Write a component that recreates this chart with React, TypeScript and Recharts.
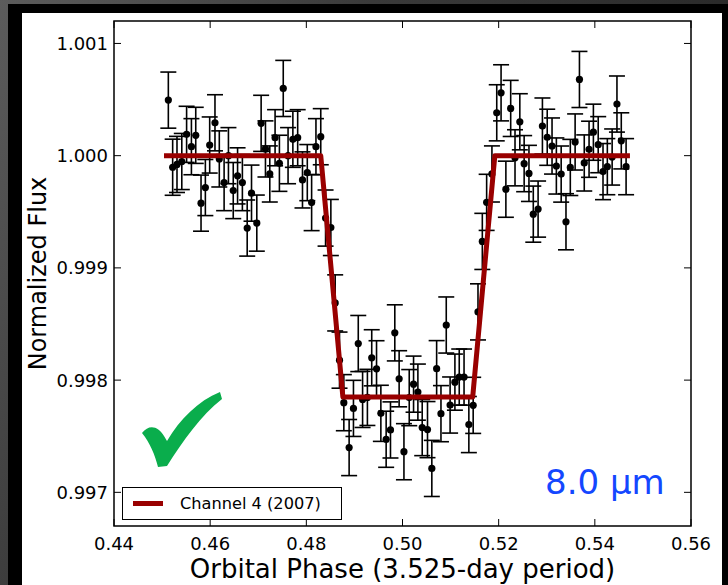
import React from "react";
import { ScatterChart, Scatter, XAxis, YAxis, ErrorBar, ReferenceArea } from "recharts";

// Binned photometry
const phase = [
  0.4513, 0.4522, 0.4531, 0.4541, 0.4551, 0.4561, 0.457, 0.4581, 0.459, 0.4599,
  0.461, 0.4619, 0.4629, 0.4638, 0.4648, 0.4657, 0.4667, 0.4677, 0.4686, 0.4697,
  0.4706, 0.4715, 0.4724, 0.4735, 0.4744, 0.4752, 0.4762, 0.4772, 0.4782, 0.4792,
  0.4802, 0.4811, 0.482, 0.483, 0.484, 0.4851, 0.486, 0.4869, 0.4878, 0.4889,
  0.4898, 0.4908, 0.4917, 0.4927, 0.4936, 0.4946, 0.4955, 0.4966, 0.4975, 0.4984,
  0.4993, 0.5003, 0.5014, 0.5023, 0.5032, 0.5041, 0.5052, 0.5061, 0.5071, 0.508,
  0.5091, 0.5099, 0.5109, 0.5118, 0.5128, 0.5138, 0.5147, 0.5157, 0.5166, 0.5175,
  0.5186, 0.5196, 0.5205, 0.5215, 0.5225, 0.5234, 0.5244, 0.5253, 0.5263, 0.5272,
  0.5282, 0.5291, 0.5301, 0.5311, 0.532, 0.533, 0.534, 0.5349, 0.5359, 0.5368,
  0.5378, 0.5388, 0.5397, 0.5407, 0.5417, 0.5426, 0.5436, 0.5446, 0.5455, 0.5465,
];

const flux = [
  1.000495, 0.999897, 0.999922, 0.999948, 1.00019, 1.00008, 1.000181, 0.999577, 0.999716, 1.000095,
  1.000293, 0.999971, 0.99976, 1.0, 0.999689, 0.99982, 0.99976, 0.999355, 0.999666, 0.999399,
  1.000288, 1.00006, 0.999837, 1.00016, 0.999932, 1.000599, 1.0, 1.000146, 1.00016, 0.999784,
  0.999849, 0.999582, 1.00008, 1.000169, 0.999444, 0.99936, 0.998688, 0.998178, 0.997799, 0.997399,
  0.997748, 0.998326, 0.997828, 0.997846, 0.998199, 0.998101, 0.997704, 0.997473, 0.997556, 0.998421,
  0.998012, 0.997362, 0.997844, 0.997964, 0.997893, 0.997577, 0.997559, 0.997213, 0.998102, 0.997701,
  0.998491, 0.997778, 0.997982, 0.998027, 0.998027, 0.997604, 0.997775, 0.998608, 0.999236, 0.999584,
  0.999837, 1.000382, 1.00056, 0.999701, 1.000421, 0.999981, 1.000302, 0.999929, 0.999842, 0.999479,
  0.999524, 1.000264, 1.000164, 1.000086, 0.999908, 0.999836, 0.999411, 0.999895, 1.000122, 1.000679,
  0.999935, 1.000057, 1.000209, 1.000098, 0.999858, 0.999902, 0.999988, 1.00046, 1.000132, 0.999902,
];

const FLUX_ERR = 0.00025;

// Transit model (Channel 4, 2007)
const modelPhase = [0.4504, 0.483, 0.4876, 0.5146, 0.5192, 0.5473];
const modelFlux = [1.0, 1.0, 0.99785, 0.99785, 1.0, 1.0];

const xTicks = [0.44, 0.46, 0.48, 0.5, 0.52, 0.54, 0.56];
const yTicks = [0.997, 0.998, 0.999, 1.0, 1.001];
const X_DOMAIN = [0.44, 0.56];
const Y_DOMAIN = [0.9967, 1.0012];

const RED = "#990000";
const FONT = "DejaVu Sans, Verdana, sans-serif";

const W = 728;
const H = 585;
const PLOT = { left: 114, right: 691, top: 21, bottom: 526 };
const TICK_LEN = 7;

const points = phase.map((p, i) => ({ phase: p, flux: flux[i], err: FLUX_ERR }));
const model = modelPhase.map((p, i) => ({ phase: p, flux: modelFlux[i] }));

// matplotlib-style ticks: pointing inward, on both opposite sides
function XTick({ x, payload }: any) {
  return (
    <g>
      <line x1={x} x2={x} y1={PLOT.bottom} y2={PLOT.bottom - TICK_LEN} stroke="#000" />
      <line x1={x} x2={x} y1={PLOT.top} y2={PLOT.top + TICK_LEN} stroke="#000" />
      <text x={x} y={PLOT.bottom + 24} textAnchor="middle" fontSize={18} fill="#000" fontFamily={FONT}>
        {Number(payload.value).toFixed(2)}
      </text>
    </g>
  );
}

function YTick({ y, payload }: any) {
  return (
    <g>
      <line x1={PLOT.left} x2={PLOT.left + TICK_LEN} y1={y} y2={y} stroke="#000" />
      <line x1={PLOT.right} x2={PLOT.right - TICK_LEN} y1={y} y2={y} stroke="#000" />
      <text x={PLOT.left - 6} y={y + 6.5} textAnchor="end" fontSize={18} fill="#000" fontFamily={FONT}>
        {Number(payload.value).toFixed(3)}
      </text>
    </g>
  );
}

const dot = (props: any) => <circle cx={props.cx} cy={props.cy} r={3.6} fill="#000" />;

export default function App() {
  return (
    <div
      style={{
        position: "absolute",
        left: 0,
        top: 0,
        width: W,
        height: H,
        overflow: "hidden",
        background: "linear-gradient(120deg, #5c5c5c 0%, #3a3a3a 35%, #1c1c1c 100%)",
        fontFamily: FONT,
      }}
    >
      <div style={{ position: "absolute", left: 8, top: 4, right: 0, bottom: 0, background: "#000" }} />
      <div style={{ position: "absolute", left: 22, top: 13, width: 700, height: H - 13, background: "#fff" }} />

      <div style={{ position: "absolute", left: 0, top: 0 }}>
        <ScatterChart
          width={W}
          height={H}
          margin={{ top: PLOT.top, right: W - PLOT.right, bottom: 0, left: 24 }}
        >
          <XAxis
            type="number"
            dataKey="phase"
            domain={X_DOMAIN}
            ticks={xTicks}
            tick={<XTick />}
            tickLine={false}
            axisLine={false}
            height={H - PLOT.bottom}
            allowDataOverflow
            label={{
              value: "Orbital Phase (3.525-day period)",
              position: "insideBottom",
              offset: 7,
              fontSize: 26,
              fill: "#000",
              fontFamily: FONT,
            }}
          />
          <YAxis
            type="number"
            dataKey="flux"
            domain={Y_DOMAIN}
            ticks={yTicks}
            tick={<YTick />}
            tickLine={false}
            axisLine={false}
            width={PLOT.left - 24}
            allowDataOverflow
            label={{
              value: "Normalized Flux",
              angle: -90,
              position: "insideLeft",
              offset: 13,
              fontSize: 24,
              fill: "#000",
              fontFamily: FONT,
              style: { textAnchor: "middle" },
            }}
          />
          <ReferenceArea
            x1={X_DOMAIN[0]}
            x2={X_DOMAIN[1]}
            y1={Y_DOMAIN[0]}
            y2={Y_DOMAIN[1]}
            fill="none"
            stroke="#000"
            strokeWidth={1.5}
            ifOverflow="visible"
          />
          <Scatter data={points} shape={dot} isAnimationActive={false}>
            <ErrorBar dataKey="err" direction="y" width={8} stroke="#000" strokeWidth={1.6} />
          </Scatter>
          <Scatter
            data={model}
            shape={() => <g />}
            line={{ stroke: RED, strokeWidth: 5, strokeLinejoin: "round" }}
            isAnimationActive={false}
          />
        </ScatterChart>
      </div>

      {/* green tick, brush-style */}
      <svg
        width={86}
        height={82}
        style={{ position: "absolute", left: 140, top: 388 }}
      >
        <path
          d="M 2 45 C 9 36, 18 38, 24 48 L 27 53 C 40 31, 58 13, 80 4 L 82 11 C 61 27, 43 53, 27 78 L 18 79 C 15 67, 10 55, 2 45 Z"
          fill="#0aad4c"
        />
      </svg>

      {/* wavelength tag */}
      <div
        style={{
          position: "absolute",
          left: 545,
          top: 465,
          fontSize: 34,
          lineHeight: 1,
          color: "#1447ff",
        }}
      >
        8.0 μm
      </div>

      {/* legend */}
      <div
        style={{
          position: "absolute",
          left: 122,
          top: 487,
          width: 220,
          height: 33,
          border: "1.5px solid #000",
          background: "#fff",
          boxSizing: "border-box",
          display: "flex",
          alignItems: "center",
        }}
      >
        <div style={{ width: 30, height: 5, background: RED, marginLeft: 10 }} />
        <span style={{ fontSize: 16.2, marginLeft: 17, color: "#000" }}>Channel 4 (2007)</span>
      </div>
    </div>
  );
}
